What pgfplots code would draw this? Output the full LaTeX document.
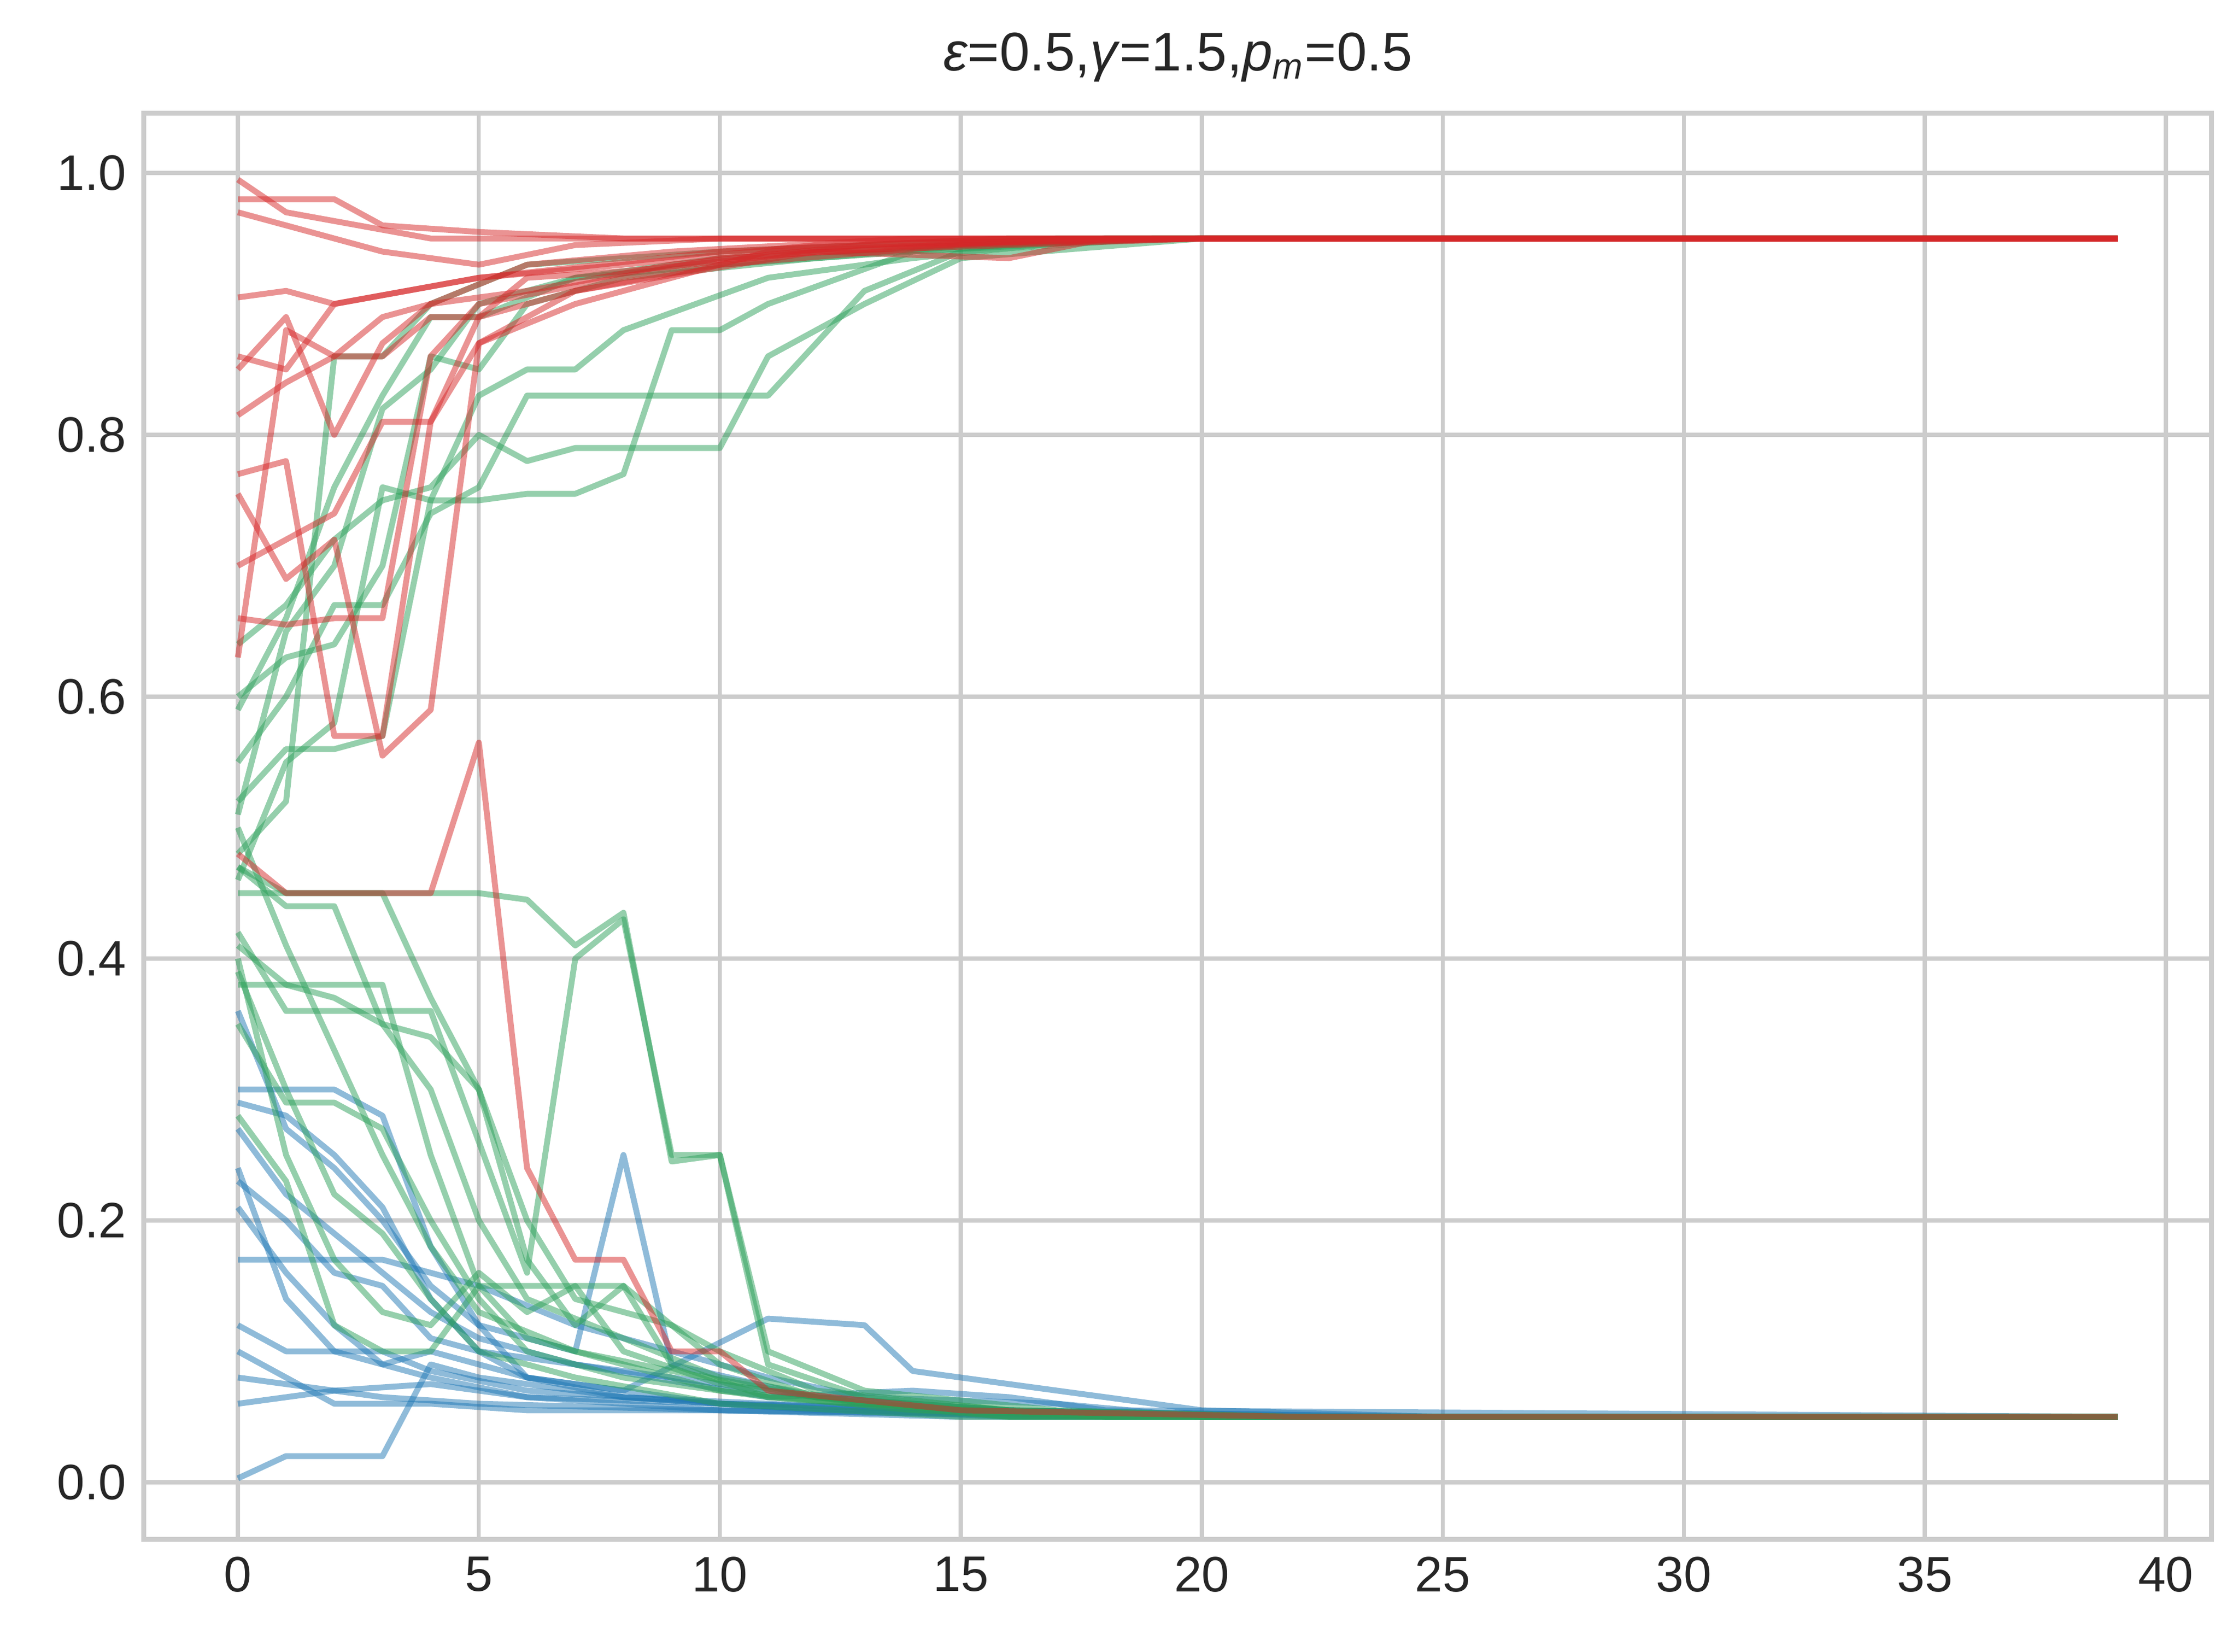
\documentclass[border=0pt]{standalone}
\usepackage{fontspec}
\setmainfont{Liberation Sans}
\usepackage{pgfplots}
\pgfplotsset{compat=1.18}
\definecolor{cr}{HTML}{D62728}
\definecolor{cb}{HTML}{1F77B4}
\definecolor{cg}{HTML}{2CA05A}
\definecolor{gridc}{HTML}{CCCCCC}
\begin{document}
\fontsize{11}{13}\selectfont
\begin{tikzpicture}
\begin{axis}[
 scale only axis, width=16.05cm, height=11.07cm,
 xmin=-1.95, xmax=40.95, ymin=-0.0436, ymax=1.0457,
 xtick={0,5,...,40}, ytick={0,0.2,...,1.0},
 yticklabel style={/pgf/number format/.cd,fixed,fixed zerofill,precision=1},
 /pgf/number format/assume math mode=true,
 grid=major, major grid style={gridc,line width=0.9pt},
 axis line style={gridc,line width=1.1pt},
 tick style={draw=none},
 ticklabel style={font=\fontsize{11}{13}\selectfont, text=black!85},
 title={\textit{ε}=0.5,\textit{γ}=1.5,\textit{p}\textsubscript{\textit{m}}=0.5},
 title style={font=\fontsize{12}{14}\selectfont, text=black!85, yshift=-3pt},
 every axis plot/.append style={line width=1.3pt, opacity=0.5, line join=round},
]
% blue
\addplot[cb] coordinates {(0,0.30)(1,0.30)(2,0.30)(3,0.28)(4,0.18)(5,0.12)(6,0.08)(8,0.065)(12,0.055)(20,0.05)(39,0.05)};
\addplot[cb] coordinates {(0,0.24)(1,0.14)(2,0.10)(3,0.09)(4,0.08)(6,0.065)(10,0.055)(18,0.05)(39,0.05)};
\addplot[cb] coordinates {(0,0.08)(1,0.075)(2,0.07)(3,0.065)(5,0.06)(10,0.055)(20,0.05)(39,0.05)};
\addplot[cb] coordinates {(0,0.003)(1,0.02)(2,0.02)(3,0.02)(4,0.09)(5,0.08)(8,0.065)(14,0.055)(22,0.05)(39,0.05)};
\addplot[cb] coordinates {(0,0.12)(1,0.10)(2,0.10)(3,0.10)(4,0.085)(6,0.07)(10,0.06)(15,0.055)(25,0.05)(39,0.05)};
\addplot[cb] coordinates {(0,0.17)(1,0.17)(3,0.17)(4,0.16)(5,0.15)(7,0.12)(9,0.10)(11,0.08)(13,0.065)(17,0.06)(20,0.05)(39,0.05)};
\addplot[cb] coordinates {(0,0.36)(1,0.27)(2,0.24)(3,0.20)(4,0.15)(5,0.12)(7,0.10)(8,0.25)(9,0.09)(12,0.065)(16,0.055)(22,0.05)(39,0.05)};
\addplot[cb] coordinates {(0,0.21)(1,0.16)(2,0.12)(3,0.09)(4,0.10)(6,0.08)(8,0.07)(11,0.125)(13,0.12)(14,0.085)(17,0.07)(20,0.055)(25,0.05)(39,0.05)};
\addplot[cb] coordinates {(0,0.29)(1,0.28)(2,0.25)(3,0.21)(4,0.14)(5,0.10)(7,0.09)(9,0.08)(12,0.065)(16,0.055)(22,0.05)(39,0.05)};
\addplot[cb] coordinates {(0,0.10)(1,0.08)(2,0.06)(3,0.06)(4,0.06)(6,0.055)(10,0.055)(15,0.05)(39,0.05)};
\addplot[cb] coordinates {(0,0.23)(1,0.20)(2,0.16)(3,0.15)(4,0.11)(5,0.10)(6,0.08)(10,0.06)(16,0.05)(39,0.05)};
\addplot[cb] coordinates {(0,0.06)(1,0.065)(2,0.07)(4,0.075)(6,0.065)(10,0.06)(16,0.055)(24,0.05)(39,0.05)};
\addplot[cb] coordinates {(0,0.27)(1,0.22)(2,0.19)(3,0.16)(4,0.13)(5,0.11)(7,0.09)(11,0.065)(14,0.07)(16,0.065)(18,0.055)(39,0.05)};
% green
\addplot[cg] coordinates {(0,0.59)(1,0.66)(2,0.76)(3,0.83)(4,0.89)(5,0.89)(7,0.92)(10,0.93)(14,0.94)(18,0.95)(39,0.95)};
\addplot[cg] coordinates {(0,0.52)(1,0.56)(2,0.56)(3,0.57)(4,0.75)(5,0.83)(6,0.85)(7,0.85)(8,0.88)(11,0.92)(14,0.935)(18,0.95)(39,0.95)};
\addplot[cg] coordinates {(0,0.55)(1,0.60)(2,0.67)(3,0.67)(4,0.74)(5,0.76)(6,0.83)(8,0.83)(10,0.83)(11,0.83)(12,0.87)(13,0.91)(15,0.94)(19,0.95)(39,0.95)};
\addplot[cg] coordinates {(0,0.64)(1,0.67)(2,0.72)(3,0.75)(4,0.76)(5,0.80)(6,0.78)(7,0.79)(8,0.79)(9,0.79)(10,0.79)(11,0.86)(13,0.90)(15,0.935)(20,0.95)(39,0.95)};
\addplot[cg] coordinates {(0,0.46)(1,0.55)(2,0.58)(3,0.76)(4,0.75)(5,0.75)(6,0.755)(7,0.755)(8,0.77)(9,0.88)(10,0.88)(11,0.90)(14,0.94)(19,0.95)(39,0.95)};
\addplot[cg] coordinates {(0,0.51)(1,0.65)(2,0.70)(3,0.82)(4,0.85)(5,0.90)(7,0.92)(10,0.935)(15,0.945)(20,0.95)(39,0.95)};
\addplot[cg] coordinates {(0,0.48)(1,0.52)(2,0.86)(3,0.86)(4,0.90)(6,0.93)(10,0.94)(16,0.95)(39,0.95)};
\addplot[cg] coordinates {(0,0.60)(1,0.63)(2,0.64)(3,0.70)(4,0.86)(5,0.85)(6,0.90)(8,0.92)(12,0.935)(17,0.95)(39,0.95)};
\addplot[cg] coordinates {(0,0.45)(1,0.45)(2,0.45)(3,0.45)(4,0.45)(5,0.45)(6,0.445)(7,0.41)(8,0.435)(9,0.245)(10,0.25)(11,0.09)(13,0.065)(16,0.055)(22,0.05)(39,0.05)};
\addplot[cg] coordinates {(0,0.38)(1,0.38)(2,0.38)(3,0.38)(4,0.25)(5,0.15)(6,0.15)(8,0.15)(9,0.09)(11,0.065)(15,0.055)(20,0.05)(39,0.05)};
\addplot[cg] coordinates {(0,0.47)(1,0.44)(2,0.44)(3,0.35)(4,0.30)(5,0.20)(6,0.14)(8,0.11)(10,0.08)(13,0.06)(18,0.05)(39,0.05)};
\addplot[cg] coordinates {(0,0.39)(1,0.30)(2,0.22)(3,0.19)(4,0.14)(5,0.10)(7,0.08)(10,0.06)(15,0.05)(39,0.05)};
\addplot[cg] coordinates {(0,0.42)(1,0.36)(2,0.36)(3,0.36)(4,0.36)(5,0.26)(6,0.16)(7,0.40)(8,0.43)(9,0.25)(10,0.25)(11,0.10)(13,0.07)(17,0.055)(22,0.05)(39,0.05)};
\addplot[cg] coordinates {(0,0.35)(1,0.29)(2,0.29)(3,0.27)(4,0.20)(5,0.14)(6,0.10)(8,0.08)(11,0.065)(16,0.05)(39,0.05)};
\addplot[cg] coordinates {(0,0.28)(1,0.23)(2,0.12)(3,0.10)(4,0.10)(5,0.15)(6,0.11)(8,0.09)(10,0.07)(14,0.055)(20,0.05)(39,0.05)};
\addplot[cg] coordinates {(0,0.41)(1,0.38)(2,0.37)(3,0.35)(4,0.34)(5,0.30)(6,0.20)(7,0.14)(9,0.12)(10,0.10)(12,0.07)(16,0.055)(22,0.05)(39,0.05)};
\addplot[cg] coordinates {(0,0.50)(1,0.41)(2,0.33)(3,0.25)(4,0.18)(5,0.13)(7,0.10)(9,0.085)(12,0.065)(16,0.05)(39,0.05)};
\addplot[cg] coordinates {(0,0.40)(1,0.25)(2,0.17)(3,0.13)(4,0.12)(5,0.16)(6,0.13)(7,0.15)(8,0.10)(10,0.075)(13,0.06)(18,0.05)(39,0.05)};
\addplot[cg] coordinates {(0,0.47)(1,0.45)(2,0.45)(3,0.45)(4,0.37)(5,0.30)(6,0.17)(7,0.12)(8,0.15)(10,0.09)(12,0.065)(18,0.05)(39,0.05)};
% red
\addplot[cr] coordinates {(0,0.98)(2,0.98)(3,0.96)(5,0.955)(8,0.95)(39,0.95)};
\addplot[cr] coordinates {(0,0.995)(1,0.97)(4,0.95)(39,0.95)};
\addplot[cr] coordinates {(0,0.905)(1,0.91)(2,0.90)(5,0.92)(8,0.93)(12,0.945)(20,0.95)(39,0.95)};
\addplot[cr] coordinates {(0,0.86)(1,0.85)(2,0.90)(5,0.92)(10,0.94)(16,0.95)(39,0.95)};
\addplot[cr] coordinates {(0,0.77)(1,0.78)(2,0.57)(3,0.57)(4,0.81)(5,0.89)(7,0.91)(12,0.94)(20,0.95)(39,0.95)};
\addplot[cr] coordinates {(0,0.66)(1,0.655)(2,0.66)(3,0.66)(4,0.86)(5,0.90)(10,0.935)(17,0.95)(39,0.95)};
\addplot[cr] coordinates {(0,0.70)(1,0.72)(2,0.74)(3,0.81)(4,0.81)(5,0.87)(7,0.90)(11,0.94)(18,0.95)(39,0.95)};
\addplot[cr] coordinates {(0,0.815)(1,0.84)(2,0.86)(3,0.89)(4,0.90)(6,0.91)(9,0.93)(13,0.945)(20,0.95)(39,0.95)};
\addplot[cr] coordinates {(0,0.48)(1,0.45)(4,0.45)(5,0.565)(6,0.24)(7,0.17)(8,0.17)(9,0.10)(10,0.10)(11,0.07)(15,0.055)(22,0.05)(39,0.05)};
\addplot[cr] coordinates {(0,0.63)(1,0.88)(2,0.86)(3,0.86)(4,0.89)(5,0.89)(6,0.92)(8,0.925)(12,0.94)(16,0.935)(18,0.95)(39,0.95)};
\addplot[cr] coordinates {(0,0.755)(1,0.69)(2,0.72)(3,0.555)(4,0.59)(5,0.87)(7,0.91)(10,0.93)(15,0.945)(20,0.95)(39,0.95)};
\addplot[cr] coordinates {(0,0.97)(1,0.96)(3,0.94)(5,0.93)(7,0.945)(10,0.95)(39,0.95)};
\addplot[cr] coordinates {(0,0.85)(1,0.89)(2,0.80)(3,0.87)(4,0.90)(6,0.93)(9,0.94)(14,0.95)(39,0.95)};
\end{axis}
\useasboundingbox (current axis.south west)++(-1.117,-0.871) rectangle ++(17.38,12.82);
\end{tikzpicture}
\end{document}
